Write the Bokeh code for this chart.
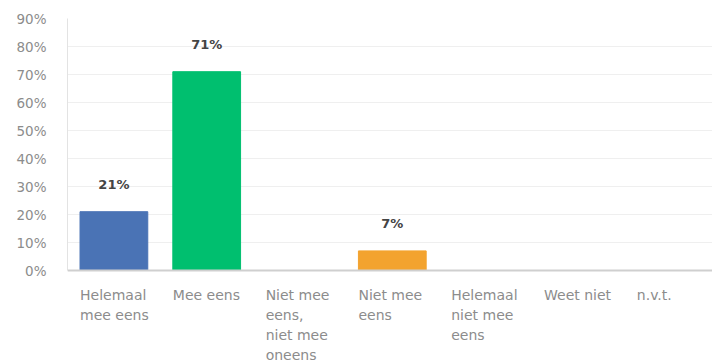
from bokeh.plotting import figure
from bokeh.models import ColumnDataSource, Range1d, PrintfTickFormatter, FixedTicker, Span
from bokeh.core.properties import value
from bokeh.embed import file_html
from bokeh.resources import INLINE

categories = ["Helemaal\nmee eens", "Mee eens", "Niet mee\neens,\nniet mee\noneens",
              "Niet mee\neens", "Helemaal\nniet mee\neens", "Weet niet", "n.v.t."]
values = [21, 71, 0, 7, 0, 0, 0]
colors = ["#4a73b5", "#00bf6f", "#4a73b5", "#f3a32f", "#4a73b5", "#4a73b5", "#4a73b5"]
y_ticks = [0, 10, 20, 30, 40, 50, 60, 70, 80, 90]

BAR_W = 0.73
xs = [i + 0.5 for i in range(len(categories))]
src = ColumnDataSource(dict(x=xs, top=values, color=colors,
                            lx=[x - BAR_W / 2 for x in xs], cat=categories))
vsrc = ColumnDataSource(dict(
    x=[x for x, v in zip(xs, values) if v > 0],
    y=[v for v in values if v > 0],
    t=[f"{v}%" for v in values if v > 0],
))

FONT = "DejaVu Sans"
LABEL_COLOR = "#8c8c8c"

# layout (pixels)
W, H = 712, 362
LEFT, TOP, ZERO_Y = 67, 18, 270
PX_PER_UNIT = (ZERO_Y - TOP) / 90.0
Y_MIN = -(H - ZERO_Y) / PX_PER_UNIT
X_MAX = (W - LEFT) / 92.8

# frame runs to the bottom of the figure; the band below 0 holds the category labels
p = figure(width=W, height=H, output_backend="svg", toolbar_location=None,
           x_range=Range1d(0, X_MAX), y_range=Range1d(Y_MIN, 90),
           min_border_left=LEFT, min_border_right=0, min_border_top=TOP, min_border_bottom=0)
p.outline_line_color = None
p.background_fill_color = "white"
p.xaxis.visible = False
p.xgrid.grid_line_color = None

p.vbar(x="x", top="top", width=BAR_W, color="color", source=src)

# y axis
p.yaxis.ticker = FixedTicker(ticks=y_ticks)
p.yaxis.bounds = (0, 90)
p.yaxis.formatter = PrintfTickFormatter(format="%d%%")
p.yaxis.axis_line_color = "#e3e3e3"
p.yaxis.major_tick_line_color = None
p.yaxis.minor_tick_line_color = None
p.yaxis.major_label_standoff = 15
p.yaxis.major_label_text_font = FONT
p.yaxis.major_label_text_font_size = "13.5px"
p.yaxis.major_label_text_color = LABEL_COLOR
p.ygrid.ticker = FixedTicker(ticks=y_ticks)
p.ygrid.grid_line_color = "#efefef"

# baseline (x axis line)
p.add_layout(Span(location=0, dimension="width", line_color="#cfcfcf", line_width=2))

# category labels, left-aligned with each bar's left edge
p.text(x="lx", y=0, text="cat", source=src, y_offset=16,
       text_align="left", text_baseline="top",
       text_font=value(FONT), text_font_size="14px", text_color=LABEL_COLOR,
       text_line_height=1.26)

# value labels
p.text(x="x", y="y", text="t", source=vsrc, y_offset=-27,
       text_align="center", text_baseline="alphabetic",
       text_font=value(FONT), text_font_size="13px", text_font_style="bold",
       text_color="#444444")

open("out.html", "w").write(file_html(p, INLINE))
